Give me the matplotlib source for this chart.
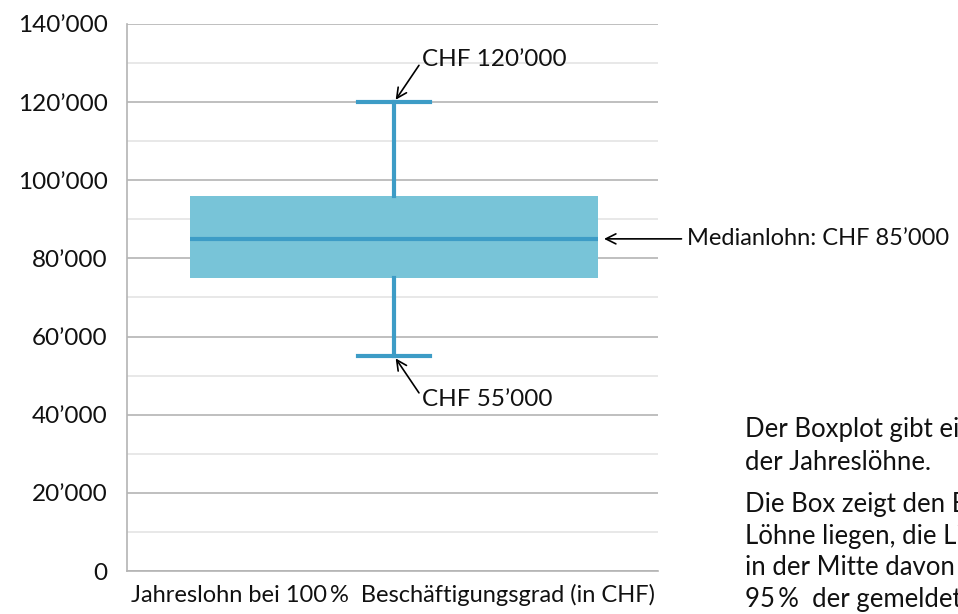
import matplotlib.pyplot as plt
from matplotlib.ticker import MultipleLocator, FuncFormatter

plt.rcParams['font.family'] = ['Lato', 'DejaVu Sans']

# boxplot summary values (CHF)
whisker_low = [55000]
quartile_1 = [75000]
median = [85000]
quartile_3 = [96000]
whisker_high = [120000]

x_label = "Jahreslohn bei 100\u2009%  Beschäftigungsgrad (in CHF)"
para_1 = [
    "Der Boxplot gibt einen Überblick über die Verteilung",
    "der Jahreslöhne.",
]
para_2 = [
    "Die Box zeigt den Bereich, in dem die mittleren 50 % der",
    "Löhne liegen, die Linie zeigt den Median. Die Striche",
    "in der Mitte davon zeigen, in welchem Bereich",
    "95\u2009%  der gemeldeten Löhne liegen.",
]

box_fill = "#78c4d8"
line_col = "#3d9cc6"


def chf(v):
    return f"{int(v):,}".replace(",", "\u2019")


fig = plt.figure(figsize=(9.58, 6.14), dpi=100)
ax = fig.add_axes([0.1326, 0.0700, 0.5543, 0.891])

stats = [{
    "whislo": whisker_low[0], "q1": quartile_1[0], "med": median[0],
    "q3": quartile_3[0], "whishi": whisker_high[0], "fliers": [],
}]
ax.bxp(stats, positions=[0.503], widths=0.768, patch_artist=True,
       showfliers=False, capwidths=0.136,
       boxprops=dict(facecolor=box_fill, edgecolor=box_fill, linewidth=0),
       medianprops=dict(color=line_col, linewidth=3),
       whiskerprops=dict(color=line_col, linewidth=3),
       capprops=dict(color=line_col, linewidth=3))

ax.set_xlim(0, 1)
ax.set_ylim(0, 140000)
ax.yaxis.set_major_locator(MultipleLocator(20000))
ax.yaxis.set_minor_locator(MultipleLocator(10000))
ax.yaxis.set_major_formatter(FuncFormatter(lambda v, p: chf(v)))
ax.grid(True, which="major", axis="y", color="#b4b4b4", linewidth=1.2)
ax.grid(True, which="minor", axis="y", color="#e4e4e4", linewidth=1.2)
ax.set_axisbelow(True)
ax.tick_params(axis="y", which="both", length=0, labelsize=17.5, pad=14,
               colors="#111111")
ax.set_xticks([])
for s in ["top", "right"]:
    ax.spines[s].set_visible(False)
for s in ["left", "bottom"]:
    ax.spines[s].set_color("#b4b4b4")
    ax.spines[s].set_linewidth(1.2)

ax.set_xlabel(x_label, fontsize=17, labelpad=9, color="#111111")

arrow = dict(arrowstyle="->", color="black", linewidth=1.2,
             mutation_scale=18, shrinkA=0, shrinkB=2)
ax.annotate("CHF " + chf(whisker_high[0]), xy=(0.503, whisker_high[0]),
            xytext=(0.555, 131000), fontsize=17.5, va="center", ha="left",
            color="#111111", arrowprops=dict(arrow, relpos=(0, 0.4)))
ax.annotate("CHF " + chf(whisker_low[0]), xy=(0.503, whisker_low[0]),
            xytext=(0.555, 44000), fontsize=17.5, va="center", ha="left",
            color="#111111", arrowprops=dict(arrow, relpos=(0, 0.6)))
ax.annotate("Medianlohn: CHF " + chf(median[0]), xy=(0.893, median[0]),
            xytext=(1.054, median[0]), fontsize=17, va="center", ha="left",
            color="#111111", arrowprops=dict(arrow, relpos=(-0.02, 0.5)),
            annotation_clip=False)

fig.text(745 / 958, 1 - 444 / 614, "\n".join(para_1), fontsize=18.5,
         va="center", ha="left", linespacing=1.42, color="#111111")
fig.text(745 / 958, 1 - 552 / 614, "\n".join(para_2), fontsize=18.5,
         va="center", ha="left", linespacing=1.34, color="#111111")

fig.savefig("out.png", dpi=100)
